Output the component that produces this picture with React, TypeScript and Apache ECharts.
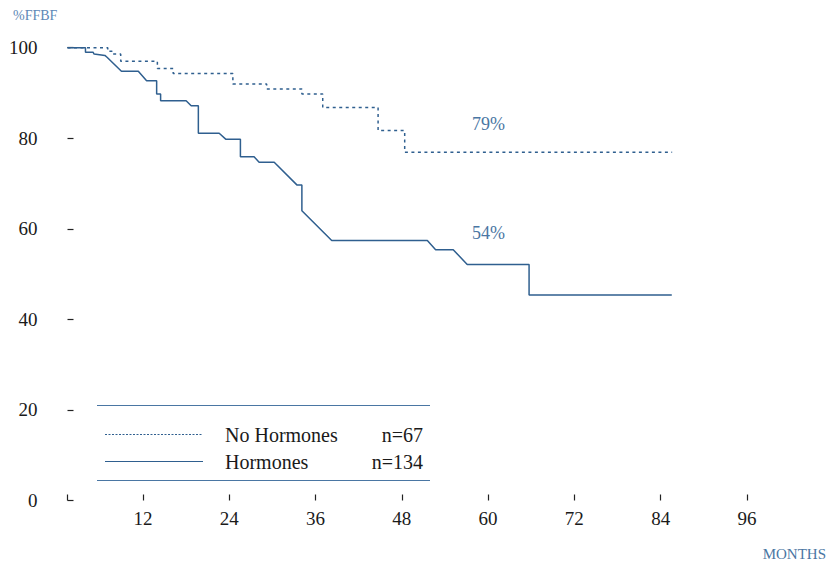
import React, { useEffect, useRef } from "react";
import * as echarts from "echarts";

// No Hormones (dotted) – Kaplan–Meier steps: month at which the level starts, level (%)
const noHormonesMonths = [1.5, 7.1, 7.7, 8.9, 14.0, 16.2, 24.5, 29.2, 34.1, 37.0, 44.7, 48.4, 85.6];
const noHormonesFFBF = [100, 99.2, 98.6, 97.0, 95.4, 94.3, 92.0, 90.9, 89.8, 86.8, 81.7, 76.9, 76.9];

// Hormones (solid) – curve vertices as drawn
const hormonesMonths = [
  1.5, 4.0, 4.0, 5.05, 5.2, 6.7, 7.0, 9.0, 11.35, 12.5, 13.9, 13.9, 14.45, 14.45, 18.0, 18.7, 19.7, 19.7,
  22.6, 23.5, 25.55, 25.55, 27.45, 28.15, 30.25, 33.4, 34.1, 34.1, 38.25, 51.55, 52.7, 55.15, 57.1, 65.7,
  65.7, 85.55,
];
const hormonesFFBF = [
  100, 100, 99.0, 99.0, 98.6, 98.3, 97.9, 94.8, 94.8, 92.7, 92.7, 89.8, 89.8, 88.3, 88.3, 87.2, 87.2, 81.1,
  81.1, 79.8, 79.8, 75.9, 75.9, 74.7, 74.7, 69.7, 69.7, 64.0, 57.4, 57.4, 55.4, 55.4, 52.1, 52.1, 45.4, 45.4,
];

const xTickValues = [12, 24, 36, 48, 60, 72, 84, 96];
const yTickValues = [0, 20, 40, 60, 80, 100];

const legendRows = [
  { name: "No Hormones", n: "n=67", dashed: true },
  { name: "Hormones", n: "n=134", dashed: false },
];
const endLabels = ["79%", "54%"];

const LINE = "#2f5f8f";
const LABEL_BLUE = "#4a76a3";
const LIGHT_BLUE = "#5d88b6";
const FONT = "'Liberation Serif', 'Times New Roman', serif";

export default function App() {
  const ref = useRef<HTMLDivElement>(null);

  useEffect(() => {
    if (!ref.current) return;
    const chart = echarts.init(ref.current, null, { renderer: "svg" });

    const noHormonesData = noHormonesMonths.map((m, i) => [m, noHormonesFFBF[i]]);
    const hormonesData = hormonesMonths.map((m, i) => [m, hormonesFFBF[i]]);

    const legendGraphics: any[] = [
      { type: "line", shape: { x1: 97, y1: 405.5, x2: 430, y2: 405.5 }, style: { stroke: LABEL_BLUE, lineWidth: 1 } },
      { type: "line", shape: { x1: 97, y1: 480.5, x2: 430, y2: 480.5 }, style: { stroke: LABEL_BLUE, lineWidth: 1 } },
    ];
    legendRows.forEach((r, i) => {
      const y = 434.5 + i * 27;
      legendGraphics.push({
        type: "line",
        shape: { x1: 105, y1: y, x2: 203, y2: y },
        style: { stroke: LINE, lineWidth: 1, lineDash: r.dashed ? [2, 1.5] : null },
      });
      legendGraphics.push({
        type: "text",
        x: 225,
        y: y,
        style: { text: r.name, font: `20px ${FONT}`, fill: "#1a1a1a", verticalAlign: "middle", align: "left" },
      });
      legendGraphics.push({
        type: "text",
        x: 423,
        y: y,
        style: { text: r.n, font: `20px ${FONT}`, fill: "#1a1a1a", verticalAlign: "middle", align: "right" },
      });
    });

    chart.setOption({
      animation: false,
      grid: { left: 67.5, top: 47.7, right: 73.7, bottom: 61.5, containLabel: false },
      xAxis: {
        type: "value",
        min: 1.5,
        max: 98,
        axisLine: { show: false },
        splitLine: { show: false },
        axisTick: {
          show: true,
          inside: true,
          length: 6,
          customValues: [1.5, ...xTickValues],
          lineStyle: { color: "#222", width: 1.2 },
        },
        axisLabel: {
          customValues: xTickValues,
          margin: 8,
          color: "#1a1a1a",
          fontFamily: FONT,
          fontSize: 19,
        },
      },
      yAxis: {
        type: "value",
        min: 0,
        max: 100,
        interval: 20,
        axisLine: { show: false, onZero: false },
        splitLine: { show: false },
        axisTick: {
          show: true,
          inside: true,
          length: 6,
          customValues: yTickValues,
          lineStyle: { color: "#222", width: 1.2 },
        },
        axisLabel: {
          customValues: yTickValues,
          margin: 30,
          color: "#1a1a1a",
          fontFamily: FONT,
          fontSize: 19,
        },
      },
      series: [
        {
          name: "No Hormones",
          type: "line",
          step: "end",
          showSymbol: false,
          data: noHormonesData,
          lineStyle: { color: LINE, width: 1.5, type: [3, 3.5] },
          silent: true,
        },
        {
          name: "Hormones",
          type: "line",
          showSymbol: false,
          data: hormonesData,
          lineStyle: { color: LINE, width: 1.5 },
          silent: true,
        },
      ],
      graphic: [
        {
          type: "text",
          x: 13,
          y: 15.5,
          style: { text: "%FFBF", font: `14px ${FONT}`, fill: LIGHT_BLUE, verticalAlign: "middle" },
        },
        {
          type: "text",
          x: 826,
          y: 554,
          style: { text: "MONTHS", font: `15px ${FONT}`, fill: LABEL_BLUE, verticalAlign: "middle", align: "right" },
        },
        {
          type: "text",
          x: 472,
          y: 123.5,
          style: { text: endLabels[0], font: `18px ${FONT}`, fill: LABEL_BLUE, verticalAlign: "middle" },
        },
        {
          type: "text",
          x: 472,
          y: 232.5,
          style: { text: endLabels[1], font: `18px ${FONT}`, fill: LABEL_BLUE, verticalAlign: "middle" },
        },
        ...legendGraphics,
      ],
    });

    return () => chart.dispose();
  }, []);

  return (
    <div
      ref={ref}
      style={{ position: "absolute", left: 0, top: 0, width: 835, height: 562, background: "#fff" }}
    />
  );
}
